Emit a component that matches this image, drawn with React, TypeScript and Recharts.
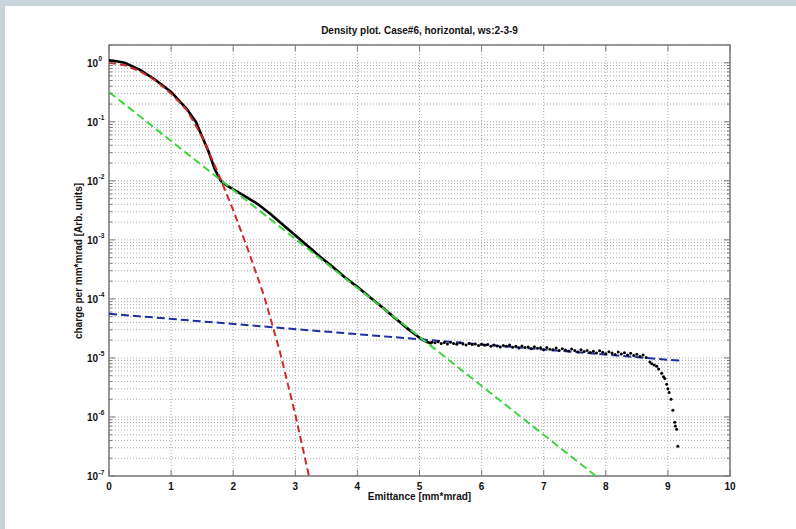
import React from 'react';
import {
  ComposedChart,
  Line,
  Scatter,
  XAxis,
  YAxis,
  CartesianGrid,
  ReferenceArea,
} from 'recharts';

// plot box in page pixels (MATLAB axes position)
const PLOT = { left: 109, right: 730, top: 45, bottom: 476 };
const W = 796;
const H = 529;

const TITLE = 'Density plot. Case#6, horizontal, ws:2-3-9';
const X_LABEL = 'Emittance [mm*mrad]';
const Y_LABEL = 'charge per mm*mrad [Arb. units]';

const xTicks = [0, 1, 2, 3, 4, 5, 6, 7, 8, 9, 10];
const yMajorTicks = [1e-7, 1e-6, 1e-5, 1e-4, 1e-3, 1e-2, 1e-1, 1e0];
const yDomain = [1e-7, 2];

// measured density, smooth part (drawn as thick line)
const coreX = [0, 0.1, 0.25, 0.5, 0.75, 1.0, 1.25, 1.4, 1.5, 1.6, 1.7, 1.8, 1.9, 2.0, 2.2, 2.4, 2.6, 2.8, 3.0, 3.2, 3.4, 3.6, 3.8, 4.0, 4.2, 4.4, 4.6, 4.8, 5.0, 5.1, 5.2];
const coreY = [1.1, 1.07, 1.0, 0.76, 0.51, 0.32, 0.166, 0.1, 0.056, 0.032, 0.016, 0.01, 8.3e-3, 7.2e-3, 5.4e-3, 4.0e-3, 2.75e-3, 1.8e-3, 1.2e-3, 7.9e-4, 5.2e-4, 3.5e-4, 2.3e-4, 1.6e-4, 1.07e-4, 7.2e-5, 4.8e-5, 3.2e-5, 2.2e-5, 1.9e-5, 1.75e-5];

// measured density, noisy tail (drawn as dots)
const tailX = [5.2, 5.25, 5.3, 5.35, 5.4, 5.45, 5.5, 5.55, 5.6, 5.65, 5.7, 5.75, 5.8, 5.85, 5.9, 5.95, 6.0, 6.05, 6.1, 6.15, 6.2, 6.25, 6.3, 6.35, 6.4, 6.45, 6.5, 6.55, 6.6, 6.65, 6.7, 6.75, 6.8, 6.85, 6.9, 6.95, 7.0, 7.05, 7.1, 7.15, 7.2, 7.25, 7.3, 7.35, 7.4, 7.45, 7.5, 7.55, 7.6, 7.65, 7.7, 7.75, 7.8, 7.85, 7.9, 7.95, 8.0, 8.05, 8.1, 8.15, 8.2, 8.25, 8.3, 8.35, 8.4, 8.45, 8.5, 8.55, 8.6, 8.65, 8.71, 8.74, 8.78, 8.82, 8.85, 8.9, 8.93, 8.95, 8.98, 9.0, 9.02, 9.05, 9.08, 9.11, 9.12, 9.14, 9.16];
const tailY = [1.85e-5, 1.8e-5, 1.88e-5, 1.76e-5, 1.82e-5, 1.72e-5, 1.84e-5, 1.76e-5, 1.7e-5, 1.8e-5, 1.72e-5, 1.66e-5, 1.76e-5, 1.69e-5, 1.73e-5, 1.62e-5, 1.7e-5, 1.64e-5, 1.69e-5, 1.58e-5, 1.66e-5, 1.6e-5, 1.53e-5, 1.63e-5, 1.57e-5, 1.66e-5, 1.52e-5, 1.57e-5, 1.47e-5, 1.6e-5, 1.5e-5, 1.53e-5, 1.43e-5, 1.55e-5, 1.46e-5, 1.49e-5, 1.38e-5, 1.5e-5, 1.41e-5, 1.37e-5, 1.47e-5, 1.34e-5, 1.43e-5, 1.36e-5, 1.31e-5, 1.42e-5, 1.33e-5, 1.26e-5, 1.38e-5, 1.29e-5, 1.33e-5, 1.24e-5, 1.3e-5, 1.21e-5, 1.32e-5, 1.25e-5, 1.18e-5, 1.27e-5, 1.21e-5, 1.14e-5, 1.26e-5, 1.17e-5, 1.22e-5, 1.12e-5, 1.2e-5, 1.1e-5, 1.16e-5, 1.06e-5, 1.12e-5, 1.02e-5, 8.5e-6, 8.0e-6, 7.6e-6, 7.2e-6, 6.5e-6, 5.5e-6, 4.8e-6, 4.5e-6, 3.6e-6, 3.0e-6, 2.6e-6, 2.0e-6, 1.3e-6, 8.1e-7, 7.0e-7, 6.2e-7, 3.2e-7];

// core fit (red)
const coreFitX = [0, 0.25, 0.5, 0.75, 1.0, 1.25, 1.5, 1.75, 2.0, 2.25, 2.5, 2.75, 3.0, 3.22];
const coreFitY = [1.0, 0.91, 0.72, 0.5, 0.3, 0.16, 0.056, 0.014, 3.2e-3, 6.3e-4, 1.1e-4, 1.3e-5, 1.1e-6, 1e-7];

// halo fit (green)
const haloFitX = [0, 7.84];
const haloFitY = [0.32, 1e-7];

// background fit (blue)
const bgFitX = [0, 9.24];
const bgFitY = [5.6e-5, 8.9e-6];

const toPoints = (xs: number[], ys: number[]) => xs.map((x, i) => ({ x, y: ys[i] }));

const core = toPoints(coreX, coreY);
const tail = toPoints(tailX, tailY);
const coreFit = toPoints(coreFitX, coreFitY);
const haloFit = toPoints(haloFitX, haloFitY);
const bgFit = toPoints(bgFitX, bgFitY);

// log axis ticks: every 1..9 x 10^k, labels only on decades
const yTicks: number[] = [];
for (let k = -7; k <= 0; k++) {
  for (let m = 1; m <= 9; m++) {
    const v = m * Math.pow(10, k);
    if (v <= yDomain[1]) yTicks.push(v);
  }
}

const FONT = '"Liberation Sans", Arial, sans-serif';
const AXIS_GRAY = '#7a7a7a';

const YTick = (props: any) => {
  const { y, payload } = props;
  const v = payload.value;
  const lg = Math.log10(v);
  const exp = Math.round(lg);
  const major = Math.abs(lg - exp) < 1e-6;
  const len = major ? 6 : 3;
  return (
    <g>
      <line x1={PLOT.left} x2={PLOT.left + len} y1={y} y2={y} stroke={AXIS_GRAY} />
      <line x1={PLOT.right - len} x2={PLOT.right} y1={y} y2={y} stroke={AXIS_GRAY} />
      {major && (
        <text x={PLOT.left - 11} y={y + 4} textAnchor="end" fontSize={10} fontWeight="bold" fontFamily={FONT} fill="#111">
          10
        </text>
      )}
      {major && (
        <text x={PLOT.left - 10.5} y={y - 1.5} fontSize={6.5} fontWeight="bold" fontFamily={FONT} fill="#111">
          {exp}
        </text>
      )}
    </g>
  );
};

const XTick = (props: any) => {
  const { x, payload } = props;
  return (
    <g>
      <line x1={x} x2={x} y1={PLOT.bottom} y2={PLOT.bottom - 6} stroke={AXIS_GRAY} />
      <line x1={x} x2={x} y1={PLOT.top} y2={PLOT.top + 6} stroke={AXIS_GRAY} />
      <text x={x} y={PLOT.bottom + 14} textAnchor="middle" fontSize={10} fontWeight="bold" fontFamily={FONT} fill="#111">
        {payload.value}
      </text>
    </g>
  );
};

const Dot = (props: any) => <circle cx={props.cx} cy={props.cy} r={1.5} fill="#000" />;

export default function App() {
  const yAxisWidth = 60;
  const xAxisHeight = 30;
  return (
    <div style={{ position: 'fixed', left: 0, top: 0, width: W, height: H, background: '#c9d3da', fontFamily: FONT }}>
      <div style={{ position: 'absolute', left: 5, top: 6, width: W - 5, height: H - 6, background: '#fff' }} />
      <div style={{ position: 'absolute', left: 0, top: 0 }}>
        <ComposedChart
          width={W}
          height={H}
          margin={{
            top: PLOT.top,
            right: W - PLOT.right,
            left: PLOT.left - yAxisWidth,
            bottom: H - PLOT.bottom - xAxisHeight,
          }}
        >
          <CartesianGrid stroke="#a8a8a8" strokeDasharray="1 2" />
          <XAxis
            dataKey="x"
            type="number"
            domain={[0, 10]}
            ticks={xTicks}
            interval={0}
            allowDataOverflow
            height={xAxisHeight}
            axisLine={false}
            tickLine={false}
            tick={<XTick />}
          />
          <YAxis
            dataKey="y"
            type="number"
            scale="log"
            domain={yDomain}
            ticks={yTicks}
            interval={0}
            allowDataOverflow
            width={yAxisWidth}
            axisLine={false}
            tickLine={false}
            tick={<YTick />}
          />
          <ReferenceArea x1={0} x2={10} y1={yDomain[0]} y2={yDomain[1]} fill="none" stroke={AXIS_GRAY} strokeWidth={1.5} />
          <Line data={core} dataKey="y" stroke="#000" strokeWidth={2.6} dot={false} isAnimationActive={false} />
          <Scatter data={tail} dataKey="y" fill="#000" shape={<Dot />} isAnimationActive={false} />
          <Line data={bgFit} dataKey="y" stroke="#1f2f9e" strokeWidth={2} strokeDasharray="8 4" dot={false} isAnimationActive={false} />
          <Line data={haloFit} dataKey="y" stroke="#3ed63e" strokeWidth={2} strokeDasharray="8 4" dot={false} isAnimationActive={false} />
          <Line data={coreFit} dataKey="y" stroke="#d02828" strokeWidth={2} strokeDasharray="7 4" dot={false} isAnimationActive={false} />
        </ComposedChart>
      </div>
      <div
        style={{
          position: 'absolute',
          left: PLOT.left,
          width: PLOT.right - PLOT.left,
          top: 25,
          textAlign: 'center',
          fontSize: 10,
          fontWeight: 'bold',
          color: '#111',
          lineHeight: '12px',
        }}
      >
        {TITLE}
      </div>
      <div
        style={{
          position: 'absolute',
          left: PLOT.left,
          width: PLOT.right - PLOT.left,
          top: 491,
          textAlign: 'center',
          fontSize: 10,
          fontWeight: 'bold',
          color: '#111',
          lineHeight: '12px',
        }}
      >
        {X_LABEL}
      </div>
      <div
        style={{
          position: 'absolute',
          left: 79 - 150,
          top: (PLOT.top + PLOT.bottom) / 2 - 6,
          width: 300,
          textAlign: 'center',
          fontSize: 10,
          fontWeight: 'bold',
          color: '#111',
          lineHeight: '12px',
          transform: 'rotate(-90deg)',
        }}
      >
        {Y_LABEL}
      </div>
    </div>
  );
}
